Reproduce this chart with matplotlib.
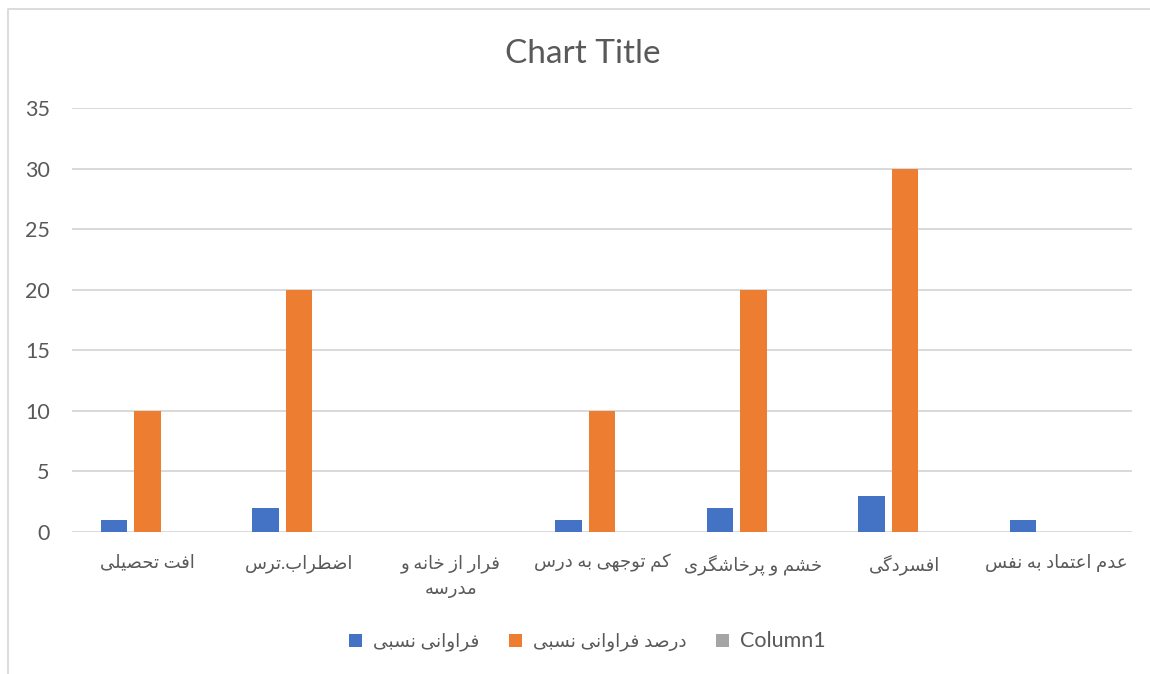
import numpy as np
import matplotlib
matplotlib.use("Agg")
import matplotlib.pyplot as plt
from matplotlib.patches import Patch
from matplotlib.lines import Line2D

plt.rcParams["font.family"] = ["Lato", "DejaVu Sans"]

# data
categories = [
    "افت تحصیلی",
    "اضطراب.ترس",
    "فرار از خانه و\nمدرسه",
    "کم توجهی به درس",
    "خشم و پرخاشگری",
    "افسردگی",
    "عدم اعتماد به نفس",
]
series_names = ["فراوانی نسبی", "درصد فراوانی نسبی", "Column1"]
freq = [1, 2, 0, 1, 2, 3, 1]
freq_pct = [10, 20, 0, 10, 20, 30, 0]
column1 = [0, 0, 0, 0, 0, 0, 0]
yticks = [0, 5, 10, 15, 20, 25, 30, 35]

colors = ["#4472C4", "#ED7D31", "#A5A5A5"]
text_color = "#595959"
grid_color = "#D9D9D9"

# minimal arabic/persian shaping, matplotlib does not do it itself
# letter: (isolated, final, initial, medial)
FORMS = {
    "ا": (0xFE8D, 0xFE8E, None, None),
    "ب": (0xFE8F, 0xFE90, 0xFE91, 0xFE92),
    "پ": (0xFB56, 0xFB57, 0xFB58, 0xFB59),
    "ت": (0xFE95, 0xFE96, 0xFE97, 0xFE98),
    "ج": (0xFE9D, 0xFE9E, 0xFE9F, 0xFEA0),
    "ح": (0xFEA1, 0xFEA2, 0xFEA3, 0xFEA4),
    "خ": (0xFEA5, 0xFEA6, 0xFEA7, 0xFEA8),
    "د": (0xFEA9, 0xFEAA, None, None),
    "ر": (0xFEAD, 0xFEAE, None, None),
    "ز": (0xFEAF, 0xFEB0, None, None),
    "س": (0xFEB1, 0xFEB2, 0xFEB3, 0xFEB4),
    "ش": (0xFEB5, 0xFEB6, 0xFEB7, 0xFEB8),
    "ص": (0xFEB9, 0xFEBA, 0xFEBB, 0xFEBC),
    "ض": (0xFEBD, 0xFEBE, 0xFEBF, 0xFEC0),
    "ط": (0xFEC1, 0xFEC2, 0xFEC3, 0xFEC4),
    "ع": (0xFEC9, 0xFECA, 0xFECB, 0xFECC),
    "ف": (0xFED1, 0xFED2, 0xFED3, 0xFED4),
    "ک": (0xFB8E, 0xFB8F, 0xFB90, 0xFB91),
    "گ": (0xFB92, 0xFB93, 0xFB94, 0xFB95),
    "ل": (0xFEDD, 0xFEDE, 0xFEDF, 0xFEE0),
    "م": (0xFEE1, 0xFEE2, 0xFEE3, 0xFEE4),
    "ن": (0xFEE5, 0xFEE6, 0xFEE7, 0xFEE8),
    "ه": (0xFEE9, 0xFEEA, 0xFEEB, 0xFEEC),
    "و": (0xFEED, 0xFEEE, None, None),
    "ی": (0xFBFC, 0xFBFD, 0xFBFE, 0xFBFF),
}


def joins_next(ch):
    return ch in FORMS and FORMS[ch][2] is not None


def shape_line(s):
    out = []
    for i, ch in enumerate(s):
        if ch not in FORMS:
            out.append(ch)
            continue
        prev = s[i - 1] if i > 0 else ""
        nxt = s[i + 1] if i + 1 < len(s) else ""
        p = joins_next(prev)
        n = joins_next(ch) and nxt in FORMS
        iso, fin, ini, med = FORMS[ch]
        if p and n:
            code = med
        elif p:
            code = fin
        elif n:
            code = ini
        else:
            code = iso
        out.append(chr(code))
    return "".join(out)[::-1]


def rtl(s):
    if not any(c in FORMS for c in s):
        return s
    return "\n".join(shape_line(line) for line in s.split("\n"))


fig = plt.figure(figsize=(11.5, 6.74), dpi=100)
ax = fig.add_axes([72 / 1150, 1 - 532 / 674, 1060 / 1150, 424 / 674])

x = np.arange(len(categories))
width = 0.175
step = 0.221
for k, (vals, c) in enumerate(zip([freq, freq_pct, column1], colors)):
    ax.bar(x + (k - 1) * step, vals, width, color=c, linewidth=0, zorder=3)

ax.set_xlim(-0.5, len(categories) - 0.5)
ax.set_ylim(0, 35)
ax.set_yticks(yticks)
ax.set_xticks(x)
ax.set_xticklabels([rtl(c) for c in categories], fontsize=13, color=text_color,
                   multialignment="center", linespacing=1.6)
ax.tick_params(axis="y", length=0, pad=16, labelsize=15.5, labelcolor=text_color)
ax.tick_params(axis="x", length=0, pad=16)
for sp in ax.spines.values():
    sp.set_visible(False)
ax.grid(axis="y", color=grid_color, linewidth=1.4, zorder=0)
ax.set_axisbelow(True)

fig.text(0.507, 1 - 54 / 674, "Chart Title", ha="center", va="center",
         fontsize=24, color=text_color)

handles = [Patch(facecolor=c, edgecolor="none") for c in colors]
leg = fig.legend(handles, [rtl(s) for s in series_names], loc="center",
                 bbox_to_anchor=(0.511, 1 - 641 / 674), ncol=3, frameon=False,
                 fontsize=13.3, handlelength=0.7, handleheight=0.7,
                 handletextpad=0.6, columnspacing=1.6)
for t in leg.get_texts():
    t.set_color(text_color)
leg.get_texts()[2].set_fontsize(15.5)

# chart area border (left and top visible)
bx = 8 / 1150
by = 1 - 9 / 674
fig.add_artist(Line2D([bx, bx, 1], [0, by, by], transform=fig.transFigure,
                      color=grid_color, linewidth=1.3))

fig.savefig("out.png", dpi=100, facecolor="white")
